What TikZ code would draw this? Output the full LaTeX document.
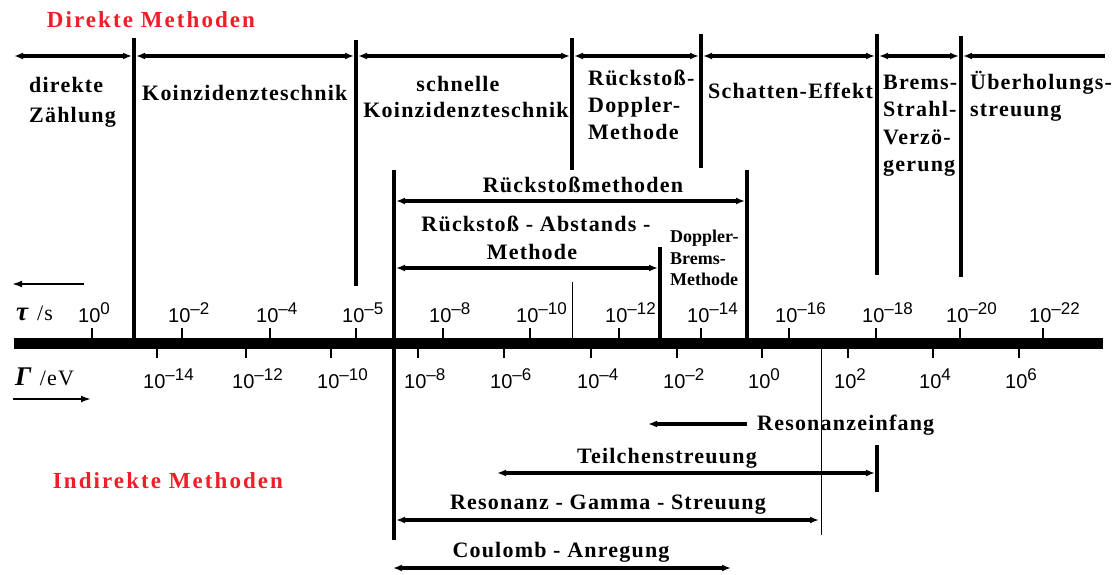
\documentclass[tikz,border=0pt]{standalone}
\usepackage{fontspec}
\setmainfont{Liberation Serif}
\newfontfamily\lblf[LetterSpace=5.5]{Liberation Serif}
\newfontfamily\ttlf[LetterSpace=9]{Liberation Serif}
\newfontfamily\dbf{Liberation Serif}
\newfontfamily\tickf{Liberation Sans}
\usetikzlibrary{arrows.meta}
\definecolor{myred}{RGB}{240,30,40}
\newcommand\tlab[1]{{\tickf\fontsize{20}{20}\selectfont 10\raisebox{8pt}{\fontsize{17}{17}\selectfont #1}}}
\tikzset{
  lbl/.style={font=\lblf\bfseries\fontsize{22}{26}\selectfont, inner sep=0pt},
  smalllbl/.style={font=\dbf\bfseries\fontsize{18}{21}\selectfont, inner sep=0pt},
  ttl/.style={font=\ttlf\bfseries\fontsize{23}{27}\selectfont, text=myred, inner sep=0pt},
  unitlbl/.style={font=\lblf\fontsize{22}{26}\selectfont, inner sep=0pt},
  ticklbl/.style={inner sep=0pt, anchor=base west},
  sep/.style={line width=3.8pt},
  thinsep/.style={line width=1pt},
  tk/.style={line width=2pt},
  axisline/.style={line width=11pt},
  tipA/.tip={Latex[length=9pt,width=7pt]},
  rng/.style={line width=3.5pt, tipA-tipA},
  rngL/.style={line width=3.5pt, tipA-},
  rngR/.style={line width=3.5pt, -tipA},
  dirarrow/.style={line width=2.5pt, -{Latex[length=10pt,width=7pt]}},
}
\begin{document}
\begin{tikzpicture}[x=1pt,y=-1pt]
\useasboundingbox (0,0) rectangle (1120,575);

% ---------- titles ----------
\node[ttl, anchor=base] (tdir) at (151,28) {Direkte Methoden};
\node[ttl, anchor=base] (tind) at (168,488) {Indirekte Methoden};

% ---------- axis ----------
\coordinate (axL) at (14,343.5);
\coordinate (axR) at (1103,343.5);
\draw[axisline] (axL) -- (axR);

% ---------- top separators ----------
\coordinate (s1t) at (134,38);  \coordinate (s1b) at (134,343);
\coordinate (s2t) at (356,40);  \coordinate (s2b) at (356,286);
\coordinate (s3t) at (572,38);  \coordinate (s3b) at (572,170);
\coordinate (s4t) at (701,34);  \coordinate (s4b) at (701,168);
\coordinate (s5t) at (877,34);  \coordinate (s5b) at (877,275);
\coordinate (s6t) at (961,36);  \coordinate (s6b) at (961,277);
\foreach \a in {1,...,6} \draw[sep] (s\a t) -- (s\a b);

% top range arrows
\coordinate (h0) at (14,56);
\coordinate (h1l) at (132,56);  \coordinate (h1r) at (136,56);
\coordinate (h2l) at (354,56);  \coordinate (h2r) at (358,56);
\coordinate (h3l) at (570,56);  \coordinate (h3r) at (574,56);
\coordinate (h4l) at (699,56);  \coordinate (h4r) at (703,56);
\coordinate (h5l) at (875,56);  \coordinate (h5r) at (879,56);
\coordinate (h6l) at (959,56);  \coordinate (h6r) at (963,56);
\coordinate (h7) at (1105,56);
\draw[rng] (h0) -- (h1l);
\draw[rng] (h1r) -- (h2l);
\draw[rng] (h2r) -- (h3l);
\draw[rng] (h3r) -- (h4l);
\draw[rng] (h4r) -- (h5l);
\draw[rng] (h5r) -- (h6l);
\draw[rngL] (h6r) -- (h7);

% top labels
\node[lbl, anchor=base west] (l1a) at (29,93) {direkte};
\node[lbl, anchor=base west] (l1b) at (29,123) {Zählung};
\node[lbl, anchor=base west] (l2) at (142,101) {Koinzidenzteschnik};
\node[lbl, anchor=base] (l3a) at (458,92) {schnelle};
\node[lbl, anchor=base] (l3b) at (466,118) {Koinzidenzteschnik};
\node[lbl, anchor=base west] (l4a) at (588,86) {Rückstoß-};
\node[lbl, anchor=base west] (l4b) at (588,113) {Doppler-};
\node[lbl, anchor=base west] (l4c) at (588,140) {Methode};
\node[lbl, anchor=base west] (l5) at (708,99) {Schatten-Effekt};
\node[lbl, anchor=base west] (l6a) at (883,90) {Brems-};
\node[lbl, anchor=base west] (l6b) at (883,117) {Strahl-};
\node[lbl, anchor=base west] (l6c) at (883,145) {Verzö-};
\node[lbl, anchor=base west] (l6d) at (883,172) {gerung};
\node[lbl, anchor=base west] (l7a) at (970,90) {Überholungs-};
\node[lbl, anchor=base west] (l7b) at (970,117) {streuung};

% ---------- recoil methods ----------
\coordinate (r1t) at (394,170); \coordinate (r1b) at (394,540);
\coordinate (r2t) at (747,170); \coordinate (r2b) at (747,343);
\coordinate (r3t) at (660,247); \coordinate (r3b) at (660,343);
\draw[sep] (r1t) -- (r1b);
\draw[sep] (r2t) -- (r2b);
\draw[sep] (r3t) -- (r3b);
\coordinate (t1t) at (572,282); \coordinate (t1b) at (572,343);
\coordinate (t2t) at (821,343); \coordinate (t2b) at (821,535);
\draw[thinsep] (t1t) -- (t1b);
\draw[thinsep] (t2t) -- (t2b);

\coordinate (rmL) at (396,201); \coordinate (rmR) at (745,201);
\draw[rng] (rmL) -- (rmR);
\node[lbl, anchor=base] (rm) at (583,193) {Rückstoßmethoden};

\coordinate (raL) at (396,268); \coordinate (raR) at (658,268);
\draw[rng] (raL) -- (raR);
\node[lbl, anchor=base] (ra1) at (536,232) {Rückstoß - Abstands -};
\node[lbl, anchor=base] (ra2) at (532,259) {Methode};

\node[smalllbl, anchor=base west] (db1) at (670,243) {Doppler-};
\node[smalllbl, anchor=base west] (db2) at (670,264) {Brems-};
\node[smalllbl, anchor=base west] (db3) at (670,285) {Methode};

% ---------- axis labels ----------
\coordinate (tauA) at (84,284); \coordinate (tauB) at (12,284);
\draw[dirarrow] (tauA) -- (tauB);
\node[unitlbl, anchor=base west] (tau) at (16,320) {{\fontsize{27}{27}\selectfont\textbf{\textit{τ}}} /s};
\coordinate (gamA) at (13,399); \coordinate (gamB) at (91,399);
\draw[dirarrow] (gamA) -- (gamB);
\node[unitlbl, anchor=base west] (gam) at (15,385) {{\fontsize{27}{27}\selectfont\textbf{\textit{Γ}}} /eV};

% tau ticks (above)
\foreach \x/\e [count=\i] in {92/0,182/–2,270/–4,356/–5,443/–8,530/–10,619/–12,701/–14,789/–16,876/–18,960/–20,1043/–22}{
  \coordinate (tu\i) at (\x,328);
  \coordinate (tv\i) at (\x,340);
  \draw[tk] (tu\i) -- (tv\i);
  \node[ticklbl] (tl\i) at (\x-14,322) {\tlab{\e}};
}
% Gamma ticks (below)
\foreach \x/\e [count=\i] in {157/–14,246/–12,331/–10,418/–8,504/–6,591/–4,677/–2,762/0,848/2,933/4,1019/6}{
  \coordinate (gu\i) at (\x,347);
  \coordinate (gv\i) at (\x,358);
  \draw[tk] (gu\i) -- (gv\i);
  \node[ticklbl] (gl\i) at (\x-14,388) {\tlab{\e}};
}

% ---------- indirect methods ----------
\coordinate (reA) at (747,424); \coordinate (reB) at (648,424);
\draw[rngR] (reA) -- (reB);
\node[lbl, anchor=base west] (re) at (757,430) {Resonanzeinfang};

\coordinate (tbT) at (877,445); \coordinate (tbB) at (877,492);
\draw[sep] (tbT) -- (tbB);
\coordinate (tsL) at (497,473); \coordinate (tsR) at (875,473);
\draw[rng] (tsL) -- (tsR);
\node[lbl, anchor=base] (ts) at (667,463) {Teilchenstreuung};

\coordinate (rgL) at (396,520); \coordinate (rgR) at (819,520);
\draw[rng] (rgL) -- (rgR);
\node[lbl, anchor=base] (rg) at (608,509) {Resonanz - Gamma - Streuung};

\coordinate (caL) at (393,568); \coordinate (caR) at (731,568);
\draw[rng] (caL) -- (caR);
\node[lbl, anchor=base] (ca) at (561,557) {Coulomb - Anregung};
\end{tikzpicture}
\end{document}
